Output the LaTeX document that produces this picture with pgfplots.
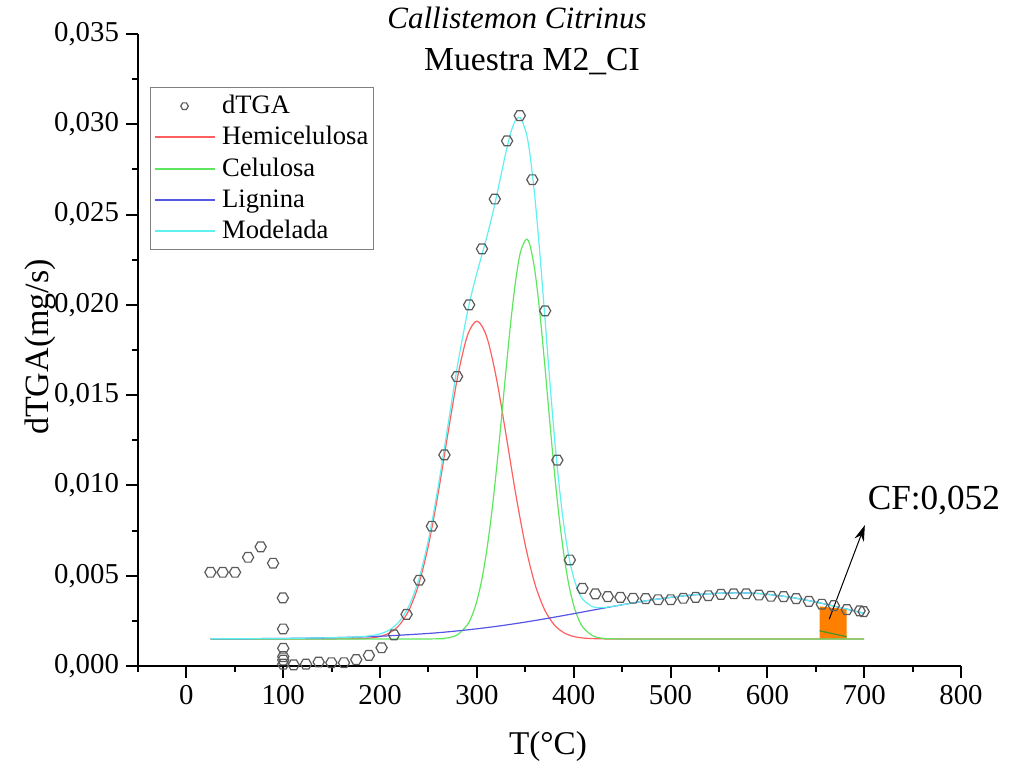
\documentclass[border=0pt]{standalone}
\usepackage{fontspec}
\setmainfont{Liberation Serif}
\usepackage{pgfplots}
\pgfplotsset{compat=1.18}
\usetikzlibrary{arrows.meta}
\definecolor{cred}{RGB}{255,95,95}
\definecolor{cgreen}{RGB}{95,230,95}
\definecolor{cblue}{RGB}{85,85,230}
\definecolor{ccyan}{RGB}{95,240,240}
\definecolor{corange}{RGB}{255,127,0}
\definecolor{cdkgreen}{RGB}{70,150,40}
\definecolor{cmark}{RGB}{90,90,90}
\pgfdeclareplotmark{hexa}{%
  \pgfpathmoveto{\pgfqpointpolar{0}{\pgfplotmarksize}}%
  \pgfpathlineto{\pgfqpointpolar{60}{\pgfplotmarksize}}%
  \pgfpathlineto{\pgfqpointpolar{120}{\pgfplotmarksize}}%
  \pgfpathlineto{\pgfqpointpolar{180}{\pgfplotmarksize}}%
  \pgfpathlineto{\pgfqpointpolar{240}{\pgfplotmarksize}}%
  \pgfpathlineto{\pgfqpointpolar{300}{\pgfplotmarksize}}%
  \pgfpathclose
  \pgfusepathqstroke}
\pgfplotsset{
  legline/.style={legend image code/.code={\draw[#1, line width=1pt] (0pt,0pt) -- (30pt,0pt); \path (32.5pt,0pt);}},
  markleg/.style={legend image code/.code={\draw[cmark, line width=0.5pt] plot[mark=hexa, mark size=1.9pt] coordinates {(15pt,0pt)}; \path (0pt,0pt) (32.5pt,0pt);}},
}
\begin{document}
\begin{tikzpicture}
\useasboundingbox (0,0) rectangle (504.5pt,385pt);
\begin{axis}[
  at={(69pt,52pt)}, anchor=south west,
  scale only axis, width=411.5pt, height=316pt,
  xmin=-50, xmax=800, ymin=0, ymax=0.035,
  axis lines*=left,
  axis line style={line width=1pt},
  tick style={line width=1pt, black},
  major tick length=6pt, minor tick length=3pt,
  tick align=outside,
  clip=false,
  xtick={0,100,200,300,400,500,600,700,800},
  minor xtick={-50,50,150,250,350,450,550,650,750},
  ytick={0,0.005,0.01,0.015,0.02,0.025,0.03,0.035},
  minor ytick={0.0025,0.0075,0.0125,0.0175,0.0225,0.0275,0.0325},
  scaled y ticks=false,
  /pgf/number format/assume math mode=true,
  ticklabel style={font=\fontsize{14.4}{17}\selectfont},
  yticklabel style={/pgf/number format/.cd, fixed, fixed zerofill, precision=3, use comma},
  legend style={at={(axis description cs:0.0146,0.916)}, anchor=north west,
    draw=gray, line width=0.5pt, font=\fontsize{13.3}{15}\selectfont,
    inner sep=1.5pt, row sep=0pt,
    nodes={inner sep=1pt, text height=10.6pt, text depth=3pt}},
  legend cell align=left,
]
% orange CF area
\addplot[fill=corange, draw=none, forget plot] coordinates {(654,0.0015) (654,0.00330) (682,0.00314) (682,0.0015)} -- cycle;
\addplot[cdkgreen, line width=0.6pt, forget plot] coordinates {(654,0.00195) (682,0.00162)};
% data
\addplot[only marks, mark=hexa, mark size=2.8pt, mark options={draw=cmark, line width=0.6pt}, markleg]
coordinates {
(24.8,0.00519) (37.5,0.00519) (50.2,0.00519) (63.7,0.00602) (76.7,0.0066) (89.5,0.00569)
(99.6,0.00377) (99.8,0.00205) (100,0.00098) (100,0.00052) (100,0.00033) (100,0.0001)
(110.8,0.00006) (123.5,0.0001) (136.6,0.00022) (149.7,0.00018) (162.7,0.00018) (175.4,0.00035)
(188.5,0.00059) (201.6,0.00101) (214.4,0.00172) (227.4,0.00286) (240.5,0.00475) (253.5,0.00774)
(266.5,0.01169) (279.5,0.01603) (292,0.02) (305.3,0.0231) (318.5,0.02586) (331.2,0.02908)
(344.3,0.03048) (357.3,0.02693) (370.5,0.01967) (383.1,0.0114) (396,0.00587) (409,0.0043)
(422.4,0.00399) (435.2,0.00384) (448.2,0.0038) (461.3,0.00375) (474.4,0.00373) (487.1,0.00367)
(500.2,0.00367) (513.2,0.00375) (526,0.0038) (539,0.00389) (552.1,0.00397) (565.2,0.004)
(578.2,0.004) (591.3,0.00393) (603.7,0.00386) (616.8,0.00384) (629.8,0.00373) (642.9,0.00358)
(656.3,0.00342) (668.7,0.00334) (682.1,0.00312) (695.3,0.00305) (699.5,0.00301)
};
\addlegendentry{dTGA}
% Hemicelulosa
\addplot[cred, line width=0.6pt, smooth, legline=cred] coordinates {
(25,0.0015) (150,0.0015) (170,0.001505) (180,0.001516) (190,0.001548) (200,0.001633)
(210,0.001837) (220,0.002273) (230,0.00311) (240,0.00453) (250,0.00669) (260,0.00956)
(270,0.01284) (280,0.01598) (290,0.01826) (300,0.0191) (310,0.01826) (320,0.01598)
(330,0.01284) (340,0.00956) (350,0.00669) (360,0.00453) (370,0.00311) (380,0.002273)
(390,0.001837) (400,0.001633) (410,0.001548) (420,0.001516) (430,0.001505) (440,0.0015)
(700,0.0015)
};
\addlegendentry{Hemicelulosa}
% Celulosa
\addplot[cgreen, line width=0.6pt, smooth, legline=cgreen] coordinates {
(25,0.0015) (250,0.0015) (260,0.001512) (270,0.001558) (280,0.001731) (290,0.002262)
(295,0.002795) (300,0.0036) (305,0.00476) (310,0.00633) (315,0.00834) (320,0.01077)
(325,0.0135) (330,0.01634) (335,0.01905) (340,0.02133) (345,0.02292) (351,0.02363)
(355,0.02327) (360,0.02185) (365,0.01957) (370,0.01674) (375,0.01371) (380,0.01078)
(385,0.00821) (390,0.0061) (395,0.00449) (400,0.00335) (405,0.00259) (410,0.002107)
(420,0.001662) (430,0.001535) (440,0.001506) (450,0.0015) (700,0.0015)
};
\addlegendentry{Celulosa}
% Lignina
\addplot[cblue, line width=0.6pt, smooth, legline=cblue] coordinates {
(25,0.001505) (50,0.001509) (100,0.001526) (150,0.001565) (200,0.001648) (250,0.001803)
(275,0.001917) (300,0.002059) (325,0.002231) (350,0.002431) (375,0.002656) (400,0.002897)
(425,0.003146) (450,0.00339) (475,0.003613) (500,0.0038) (525,0.003945) (550,0.004029)
(570,0.00405) (585,0.00403) (600,0.003972) (625,0.003796) (650,0.003542) (675,0.003239)
(700,0.002918)
};
\addlegendentry{Lignina}
% Modelada
\addplot[ccyan, line width=0.6pt, smooth, legline=ccyan] coordinates {
(25,0.001505) (50,0.001509) (100,0.001526) (150,0.001565) (170,0.001596) (180,0.001623)
(190,0.001674) (200,0.001781) (210,0.002009) (220,0.002472) (230,0.00334) (240,0.004794)
(250,0.006995) (260,0.009917) (270,0.01329) (280,0.016654) (290,0.019521) (295,0.020714)
(300,0.021759) (305,0.022741) (310,0.023715) (315,0.024769) (320,0.025944) (325,0.027201)
(330,0.028449) (335,0.029538) (340,0.030238) (345,0.030359) (351,0.02951) (355,0.028264)
(360,0.025898) (365,0.02287) (370,0.019459) (375,0.015995) (380,0.012756) (385,0.009978)
(390,0.007736) (395,0.006053) (400,0.00488) (405,0.004118) (410,0.003652) (420,0.003275)
(430,0.003236) (440,0.0033) (450,0.00339) (475,0.003613) (500,0.0038) (525,0.003945)
(550,0.004029) (570,0.00405) (585,0.00403) (600,0.003972) (625,0.003796) (650,0.003542)
(675,0.003239) (700,0.002918)
};
\addlegendentry{Modelada}
\draw[-{Stealth[length=8pt,width=5pt]}, line width=0.5pt] (axis cs:663.9,0.00259) -- (axis cs:700.7,0.0078);
\node[font=\fontsize{17.6}{20}\selectfont] at (axis cs:772,0.00914) {CF:0,052};
\end{axis}
\node[font=\fontsize{15.5}{18}\selectfont\itshape] at (258.5pt,376pt) {Callistemon Citrinus};
\node[font=\fontsize{16.8}{19}\selectfont] at (266pt,354pt) {Muestra M2\_CI};
\node[rotate=90, font=\fontsize{17}{20}\selectfont] at (20pt,211.5pt) {dTGA(mg/s)};
\node[font=\fontsize{16.6}{19}\selectfont] at (274pt,11.5pt) {T(°C)};
\end{tikzpicture}
\end{document}
